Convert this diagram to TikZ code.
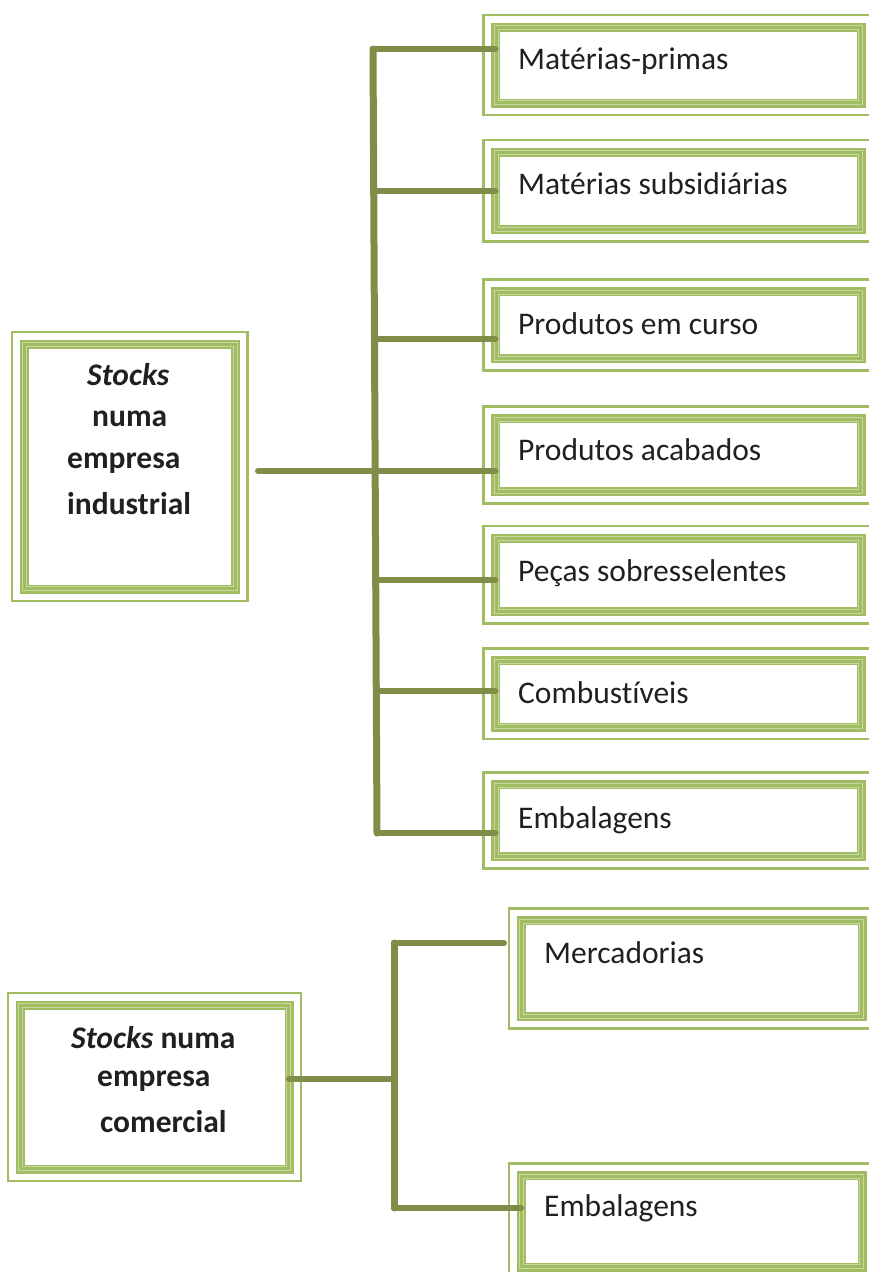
\documentclass[tikz,border=0pt]{standalone}
\usepackage{fontspec}
\setmainfont{Carlito}[Ligatures={NoCommon}]
\definecolor{bandg}{RGB}{162,188,100}
\definecolor{lightg}{RGB}{200,217,160}
\definecolor{conng}{RGB}{128,141,72}
\definecolor{txt}{RGB}{35,31,32}
\newcommand\greenbox[5]{%
  \node[band, minimum width={#4-#2}, minimum height={#5-#3}] (#1) at (#2,#3) {};
  \draw[stripe] ([shift={(2.4,2.4)}]#1.north west) rectangle ([shift={(-2.4,-2.4)}]#1.south east);
  \draw[stripe] ([shift={(-1.4,-1.4)}]#1.north west) rectangle ([shift={(1.4,1.4)}]#1.south east);
  \draw[frame] ([shift={(-12,-12)}]#1.north west) rectangle ([shift={(12,12)}]#1.south east);
}
\begin{document}
\begin{tikzpicture}[x=1pt,y=-1pt,
  band/.style={draw=bandg, line width=9pt, rectangle, inner sep=0pt, outer sep=0pt, anchor=north west},
  frame/.style={draw=bandg, line width=2.2pt},
  stripe/.style={draw=lightg, line width=0.7pt},
  conn/.style={draw=conng, line width=7pt, line cap=round},
  branch/.style={draw=conng, line width=6pt, line cap=round},
  lbl/.style={anchor=base west, inner sep=0pt, text=txt, font=\fontsize{31.5}{38}\selectfont},
  blbl/.style={anchor=base west, inner sep=0pt, text=txt, font=\fontsize{31.5}{38}\selectfont\bfseries},
]
\useasboundingbox (0,0) rectangle (869,1272);
\begin{scope}
\clip (0,0) rectangle (869,1272);
% right boxes (industrial)
\greenbox{mp}{495.5}{27}{861}{103}
\greenbox{ms}{495.5}{152}{861}{229.5}
\greenbox{pc}{495.5}{291.5}{861}{358.5}
\greenbox{pa}{495.5}{418.5}{861}{491.5}
\greenbox{ps}{495.5}{538}{861}{611.5}
\greenbox{cb}{495.5}{660.5}{861}{727}
\greenbox{em}{495.5}{784.5}{861}{856.5}
% right boxes (comercial)
\greenbox{me}{521}{920.5}{862}{1016.5}
\greenbox{em2}{521}{1175.5}{862}{1267}
% left boxes
\greenbox{ind}{24}{344}{235.5}{589}
\greenbox{com}{20}{1005}{289}{1169}
\end{scope}

% labels
\node[lbl] (mp-t) at (518,69) {Matérias-primas};
\node[lbl] (ms-t) at (518,194) {Matérias subsidiárias};
\node[lbl] (pc-t) at (518,334) {Produtos em curso};
\node[lbl] (pa-t) at (518,460) {Produtos acabados};
\node[lbl] (ps-t) at (518,581) {Peças sobresselentes};
\node[lbl] (cb-t) at (518,703) {Combustíveis};
\node[lbl] (em-t) at (518,828) {Embalagens};
\node[lbl] (me-t) at (544,963) {Mercadorias};
\node[lbl] (em2-t) at (544,1216) {Embalagens};

\node[blbl] (ind-t1) at (87,385) {\itshape Stocks};
\node[blbl] (ind-t2) at (92,426) {numa};
\node[blbl] (ind-t3) at (67,468) {empresa};
\node[blbl] (ind-t4) at (67,514) {industrial};

\node[blbl] (com-t1) at (71,1048) {\textit{Stocks} numa};
\node[blbl] (com-t2) at (97,1086) {empresa};
\node[blbl] (com-t3) at (100,1132) {comercial};

% industrial connectors
\coordinate (j1) at (373,49);
\coordinate (j2) at (374,191);
\coordinate (j3) at (374.5,339);
\coordinate (j4) at (375,471);
\coordinate (j5) at (375.5,580);
\coordinate (j6) at (376,691);
\coordinate (j7) at (377,833);
\coordinate (ind-out) at (258,471);
\draw[conn] (j1) -- (j7);
\draw[branch] (j1) -- (j1 -| mp.west);
\draw[branch] (j2) -- (j2 -| ms.west);
\draw[branch] (j3) -- (j3 -| pc.west);
\draw[branch] (j4) -- (j4 -| pa.west);
\draw[branch] (j5) -- (j5 -| ps.west);
\draw[branch] (j6) -- (j6 -| cb.west);
\draw[branch] (j7) -- (j7 -| em.west);
\draw[branch] (ind-out) -- (j4);

% comercial connectors
\coordinate (k1) at (394,943);
\coordinate (k2) at (394,1079);
\coordinate (k3) at (394,1208);
\coordinate (me-in) at (504,943);
\draw[conn] (k1) -- (k3);
\draw[branch] (k1) -- (me-in);
\draw[branch] (k3) -- (k3 -| em2.west);
\draw[branch] (k2 -| com.east) -- (k2);
\end{tikzpicture}
\end{document}
